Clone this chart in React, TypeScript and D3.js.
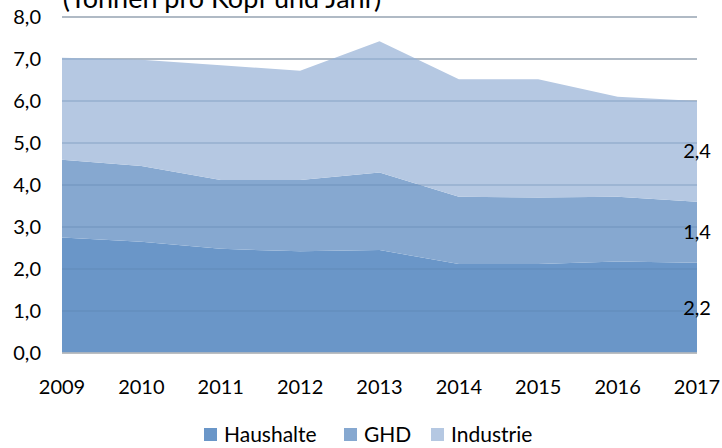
import React from 'react';
import * as d3 from 'd3';

const years = [2009, 2010, 2011, 2012, 2013, 2014, 2015, 2016, 2017];
const haushalte = [2.75, 2.65, 2.48, 2.42, 2.45, 2.12, 2.12, 2.18, 2.15];
const ghd = [1.85, 1.8, 1.64, 1.7, 1.85, 1.6, 1.58, 1.54, 1.45];
const industrie = [2.43, 2.53, 2.73, 2.6, 3.12, 2.8, 2.82, 2.38, 2.4];
const seriesNames = ['Haushalte', 'GHD', 'Industrie'];
const endLabels = ['2,2', '1,4', '2,4'];
const yTicks = [0, 1, 2, 3, 4, 5, 6, 7, 8];

const colors = ['#6a96c8', '#86a8d0', '#b5c8e2'];
const font = 'Lato, "Open Sans", sans-serif';

const App = () => {
  const width = 722;
  const height = 448;
  const margin = { top: 17, right: 25, bottom: 95, left: 62 };

  const x = d3.scaleLinear()
    .domain([years[0], years[years.length - 1]])
    .range([margin.left, width - margin.right]);
  const y = d3.scaleLinear()
    .domain([0, 8])
    .range([height - margin.bottom, margin.top]);

  const rows = years.map((yr, i) => ({
    year: yr,
    Haushalte: haushalte[i],
    GHD: ghd[i],
    Industrie: industrie[i],
  }));
  const stacked = d3.stack<any>().keys(seriesNames)(rows);

  const area = d3.area<any>()
    .x(d => x(d.data.year))
    .y0(d => y(d[0]))
    .y1(d => y(d[1]));

  const legendX = [204, 344, 431];

  return (
    <svg width={width} height={height} style={{ display: 'block', position: 'absolute', left: 0, top: 0 }}>
      <rect width={width} height={height} fill="#ffffff" />
      <text x={222} y={8} textAnchor="middle" fontFamily={font} fontSize={27} fill="#000">
        (Tonnen pro Kopf und Jahr)
      </text>
      {yTicks.map(t => (
        <line key={'g' + t} x1={margin.left} x2={width - margin.right} y1={y(t)} y2={y(t)}
          stroke="#bfbfbf" strokeWidth={1.5} />
      ))}
      {stacked.map((s, i) => (
        <path key={s.key} d={area(s) || ''} fill={colors[i]} />
      ))}
      {yTicks.map(t => (
        <line key={'o' + t} x1={margin.left} x2={width - margin.right} y1={y(t)} y2={y(t)}
          stroke="#5a7fa8" strokeOpacity={0.35} strokeWidth={1.5} />
      ))}
      <line x1={margin.left} x2={width - margin.right} y1={y(0)} y2={y(0)} stroke="#bfbfbf" strokeWidth={1.5} />
      {yTicks.map(t => (
        <text key={'t' + t} x={41} y={y(t)} dy="0.35em" textAnchor="end"
          fontFamily={font} fontSize={20} fill="#000">
          {d3.format('.1f')(t).replace('.', ',')}
        </text>
      ))}
      {years.map(yr => (
        <text key={yr} x={x(yr)} y={394} textAnchor="middle" fontFamily={font} fontSize={20} fill="#000">
          {yr}
        </text>
      ))}
      {stacked.map((s, i) => {
        const last = s[s.length - 1];
        return (
          <text key={'e' + i} x={x(years[years.length - 1])} y={y((last[0] + last[1]) / 2)} dy="0.35em"
            textAnchor="middle" fontFamily={font} fontSize={20} fill="#000">
            {endLabels[i]}
          </text>
        );
      })}
      {seriesNames.map((n, i) => (
        <g key={n} transform={`translate(${legendX[i]},428)`}>
          <rect width={13} height={13} fill={colors[i]} />
          <text x={20} y={6.5} dy="0.35em" fontFamily={font} fontSize={21} fill="#000">{n}</text>
        </g>
      ))}
    </svg>
  );
};

export default App;
